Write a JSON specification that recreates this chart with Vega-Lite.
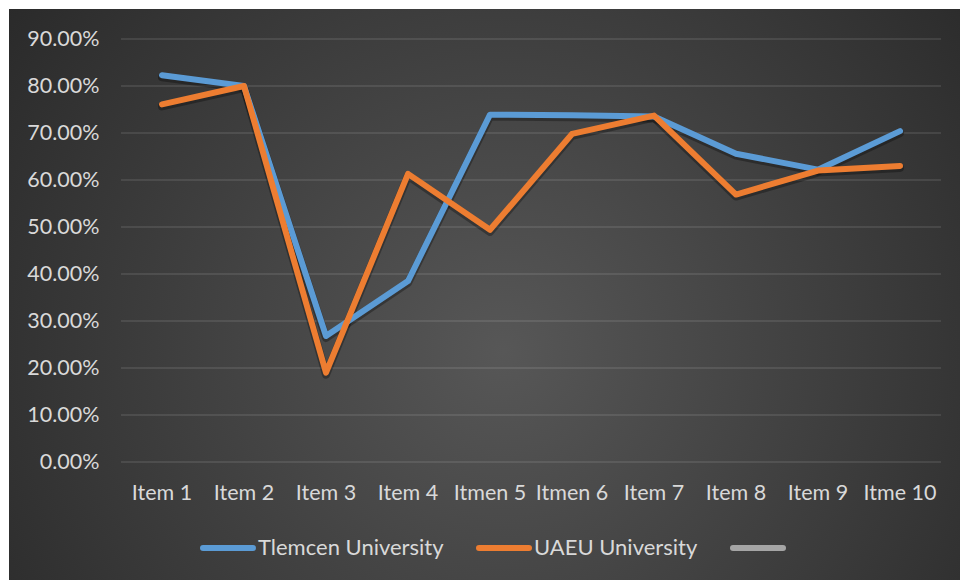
{
  "$schema": "https://vega.github.io/schema/vega-lite/v6.json",
  "width": 951,
  "height": 571,
  "padding": {"left": 9, "top": 9, "right": 0, "bottom": 0},
  "autosize": {"type": "none"},
  "background": "#ffffff",
  "config": {
    "view": {"stroke": null},
    "font": "Lato",
    "axis": {"labelFont": "Lato", "labelFontSize": 21.5, "labelColor": "#D9D9D9"},
    "legend": {"labelFont": "Lato", "labelFontSize": 22, "labelColor": "#D9D9D9", "labelLimit": 400}
  },
  "datasets": {
    "scores": [
      {"item": "Item 1", "series": "Tlemcen University", "value": 0.823},
      {"item": "Item 2", "series": "Tlemcen University", "value": 0.800},
      {"item": "Item 3", "series": "Tlemcen University", "value": 0.268},
      {"item": "Item 4", "series": "Tlemcen University", "value": 0.385},
      {"item": "Itmen 5", "series": "Tlemcen University", "value": 0.739},
      {"item": "Itmen 6", "series": "Tlemcen University", "value": 0.738},
      {"item": "Item 7", "series": "Tlemcen University", "value": 0.735},
      {"item": "Item 8", "series": "Tlemcen University", "value": 0.656},
      {"item": "Item 9", "series": "Tlemcen University", "value": 0.622},
      {"item": "Itme 10", "series": "Tlemcen University", "value": 0.704},
      {"item": "Item 1", "series": "UAEU University", "value": 0.761},
      {"item": "Item 2", "series": "UAEU University", "value": 0.800},
      {"item": "Item 3", "series": "UAEU University", "value": 0.190},
      {"item": "Item 4", "series": "UAEU University", "value": 0.613},
      {"item": "Itmen 5", "series": "UAEU University", "value": 0.494},
      {"item": "Itmen 6", "series": "UAEU University", "value": 0.698},
      {"item": "Item 7", "series": "UAEU University", "value": 0.737},
      {"item": "Item 8", "series": "UAEU University", "value": 0.569},
      {"item": "Item 9", "series": "UAEU University", "value": 0.620},
      {"item": "Itme 10", "series": "UAEU University", "value": 0.630}
    ]
  },
  "layer": [
    {
      "data": {"values": [{}]},
      "mark": {
        "type": "rect",
        "fill": {
          "gradient": "radial",
          "x1": 0.52, "y1": 0.56, "r1": 0,
          "x2": 0.52, "y2": 0.56, "r2": 0.72,
          "stops": [
            {"offset": 0, "color": "#575757"},
            {"offset": 1, "color": "#242424"}
          ]
        }
      },
      "encoding": {}
    },
    {
      "data": {"values": [
        {"level": 0}, {"level": 0.1}, {"level": 0.2}, {"level": 0.3}, {"level": 0.4},
        {"level": 0.5}, {"level": 0.6}, {"level": 0.7}, {"level": 0.8}, {"level": 0.9}
      ]},
      "mark": {"type": "rule", "stroke": "#ffffff", "strokeOpacity": 0.13, "strokeWidth": 1.5},
      "encoding": {
        "y": {"field": "level", "type": "quantitative"},
        "x": {"datum": "Item 1", "type": "nominal", "bandPosition": 0},
        "x2": {"datum": "Itme 10", "bandPosition": 1}
      }
    },
    {
      "data": {"name": "scores"},
      "mark": {"type": "line", "stroke": "#000000", "strokeOpacity": 0.3, "strokeWidth": 8, "strokeCap": "round", "strokeJoin": "round", "yOffset": 2},
      "encoding": {
        "x": {"field": "item", "type": "nominal", "sort": null},
        "y": {"field": "value", "type": "quantitative"},
        "detail": {"field": "series", "type": "nominal"}
      }
    },
    {
      "data": {"name": "scores"},
      "mark": {"type": "line", "strokeWidth": 6, "strokeCap": "round", "strokeJoin": "round"},
      "encoding": {
        "x": {
          "field": "item",
          "type": "nominal",
          "sort": null,
          "scale": {
            "type": "band",
            "domain": ["Item 1", "Item 2", "Item 3", "Item 4", "Itmen 5", "Itmen 6", "Item 7", "Item 8", "Item 9", "Itme 10"],
            "paddingInner": 0,
            "paddingOuter": 0.7988,
            "align": 0.855
          },
          "axis": {
            "title": null,
            "orient": "bottom",
            "offset": -118,
            "zindex": 2,
            "bandPosition": 0.5,
            "domain": false,
            "ticks": false,
            "grid": false,
            "labelAngle": 0,
            "labelAlign": "center",
            "labelPadding": 31
          }
        },
        "y": {
          "field": "value",
          "type": "quantitative",
          "scale": {"domain": [-0.25106, 0.96383], "nice": false, "zero": false},
          "axis": {
            "title": null,
            "values": [0, 0.1, 0.2, 0.3, 0.4, 0.5, 0.6, 0.7, 0.8, 0.9],
            "format": ".2%",
            "offset": -112,
            "zindex": 2,
            "domain": false,
            "ticks": false,
            "grid": false,
            "labelPadding": 22
          }
        },
        "color": {
          "field": "series",
          "type": "nominal",
          "scale": {
            "domain": ["Tlemcen University", "UAEU University", " "],
            "range": ["#5B9BD5", "#ED7D31", "#A5A5A5"]
          },
          "legend": {
            "title": null,
            "orient": "none",
            "direction": "horizontal",
            "legendX": 191,
            "legendY": 511,
            "symbolType": "stroke",
            "symbolSize": 2500,
            "symbolStrokeWidth": 6,
            "labelOffset": 2,
            "columnPadding": 23,
            "encode": {"symbols": {"update": {"strokeCap": {"value": "round"}}}}
          }
        }
      }
    }
  ]
}
